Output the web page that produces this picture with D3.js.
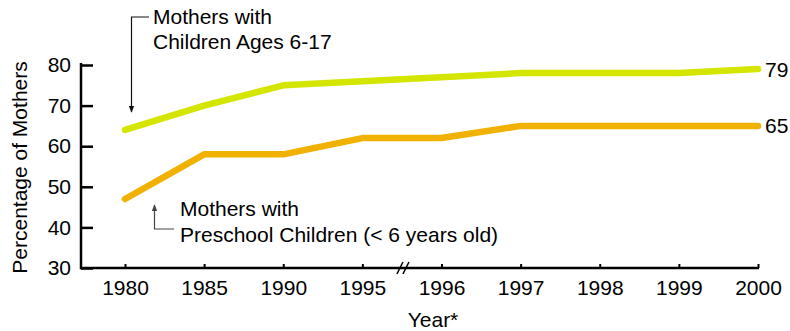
<!DOCTYPE html>
<html>
<head>
<meta charset="utf-8">
<script src="https://cdn.jsdelivr.net/npm/d3@7"></script>
<style>
  html, body { margin: 0; padding: 0; background: #fff; }
  svg { display: block; font-family: "Liberation Sans", Arial, Helvetica, sans-serif; }
</style>
</head>
<body>
<svg id="chart" width="790" height="331"></svg>
<script>
// Labour force participation of mothers, by age of youngest child
const years = ["1980", "1985", "1990", "1995", "1996", "1997", "1998", "1999", "2000"];
const schoolAge = [64, 70, 75, 76, 77, 78, 78, 78, 79];   // children ages 6-17
const preschool = [47, 58, 58, 62, 62, 65, 65, 65, 65];   // children under 6
const yTicks = [30, 40, 50, 60, 70, 80];

const svg = d3.select("#chart");
const font = 21;

const x = d3.scalePoint().domain(years).range([125, 758]);
const y = d3.scaleLinear().domain([30, 80]).range([268, 65]);
const axisLeftX = 81;

// y axis: ticks point inward
const gy = svg.append("g").attr("transform", `translate(${axisLeftX},0)`)
  .call(d3.axisLeft(y).tickValues(yTicks).tickSizeInner(-12).tickSizeOuter(0).tickPadding(10));
gy.select(".domain").remove();
gy.selectAll(".tick line").attr("stroke", "#000").attr("stroke-width", 2.5);
gy.selectAll(".tick text").attr("font-size", font).attr("fill", "#000")
  .attr("font-family", "Liberation Sans, Arial, sans-serif");
svg.append("line")
  .attr("x1", axisLeftX).attr("x2", axisLeftX)
  .attr("y1", y(80) - 2).attr("y2", y(30) + 1.25)
  .attr("stroke", "#000").attr("stroke-width", 2.5);

// x axis: short inward ticks
const gx = svg.append("g").attr("transform", `translate(0,${y(30)})`)
  .call(d3.axisBottom(x).tickSizeInner(-4).tickSizeOuter(0).tickPadding(12));
gx.select(".domain").remove();
gx.selectAll(".tick line").attr("stroke", "#000").attr("stroke-width", 2);
gx.selectAll(".tick text").attr("font-size", font).attr("fill", "#000")
  .attr("font-family", "Liberation Sans, Arial, sans-serif");
svg.append("line")
  .attr("x1", axisLeftX).attr("x2", x("2000") + 1)
  .attr("y1", y(30)).attr("y2", y(30))
  .attr("stroke", "#000").attr("stroke-width", 2.5);

// break marks between 1995 and 1996
const bx = (x("1995") + x("1996")) / 2 + 1;
[-3, 3].forEach(d => {
  svg.append("line")
    .attr("x1", bx + d - 3).attr("y1", y(30) + 6)
    .attr("x2", bx + d + 3).attr("y2", y(30) - 6)
    .attr("stroke", "#000").attr("stroke-width", 1.5);
});

// axis titles
svg.append("text")
  .attr("transform", `translate(27,${(y(30) + y(80)) / 2 + 1}) rotate(-90)`)
  .attr("text-anchor", "middle").attr("font-size", font).attr("fill", "#000")
  .text("Percentage of Mothers");
svg.append("text")
  .attr("x", 433).attr("y", 327)
  .attr("text-anchor", "middle").attr("font-size", font).attr("fill", "#000")
  .text("Year*");

// series lines
const line = d3.line().x((d, i) => x(years[i])).y(d => y(d));
const series = [
  { values: schoolAge, color: "#d4e600" },
  { values: preschool, color: "#f0b100" }
];
series.forEach(s => {
  svg.append("path")
    .datum(s.values)
    .attr("d", line)
    .attr("fill", "none")
    .attr("stroke", s.color)
    .attr("stroke-width", 6.5)
    .attr("stroke-linecap", "round")
    .attr("stroke-linejoin", "round");
  const last = s.values[s.values.length - 1];
  svg.append("text")
    .attr("x", x(years[years.length - 1]) + 7)
    .attr("y", y(last))
    .attr("dy", "0.36em")
    .attr("font-size", font).attr("fill", "#000")
    .text(last);
});

// arrowhead markers
const defs = svg.append("defs");
[["arrowDark", "#111"], ["arrowGrey", "#444"]].forEach(([id, c]) => {
  defs.append("marker")
    .attr("id", id).attr("viewBox", "0 0 10 10")
    .attr("refX", 9).attr("refY", 5)
    .attr("markerWidth", 7).attr("markerHeight", 7)
    .attr("markerUnits", "userSpaceOnUse")
    .attr("orient", "auto")
    .append("path").attr("d", "M0,1 L10,5 L0,9 Z").attr("fill", c);
});

// annotation: school-age children
svg.append("path")
  .attr("d", `M149,17 H131.5 V${y(64) - 18}`)
  .attr("fill", "none").attr("stroke", "#111").attr("stroke-width", 1.2)
  .attr("marker-end", "url(#arrowDark)");
const t1 = svg.append("text").attr("font-size", font).attr("fill", "#000");
t1.append("tspan").attr("x", 153).attr("y", 23.5).text("Mothers with");
t1.append("tspan").attr("x", 153).attr("y", 48.5).text("Children Ages 6-17");

// annotation: preschool children
svg.append("path")
  .attr("d", `M174,229 H154.5 V${y(47) + 6}`)
  .attr("fill", "none").attr("stroke", "#444").attr("stroke-width", 1.2)
  .attr("marker-end", "url(#arrowGrey)");
const t2 = svg.append("text").attr("font-size", font).attr("fill", "#000");
t2.append("tspan").attr("x", 180).attr("y", 216).text("Mothers with");
t2.append("tspan").attr("x", 180).attr("y", 242).text("Preschool Children (< 6 years old)");
</script>
</body>
</html>
